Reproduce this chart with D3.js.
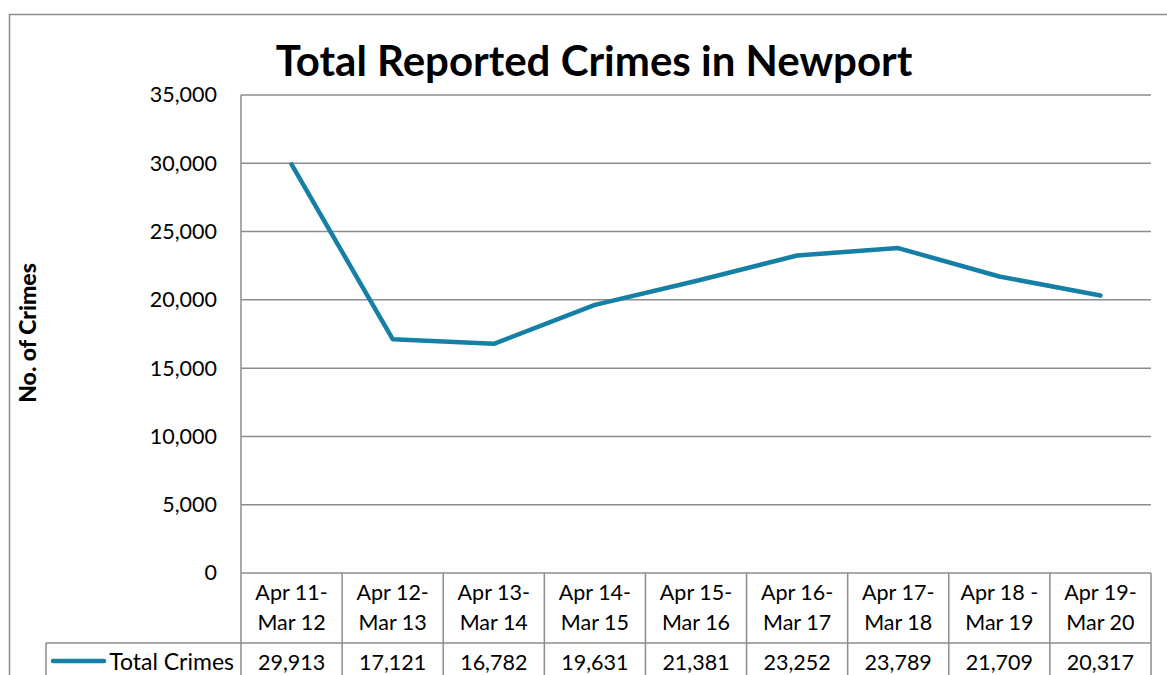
<!DOCTYPE html>
<html>
<head>
<meta charset="utf-8">
<script src="https://cdn.jsdelivr.net/npm/d3@7"></script>
<style>
  html, body { margin: 0; padding: 0; background: #fff; }
  svg { display: block; font-family: Lato, "Open Sans", sans-serif; }
</style>
</head>
<body>
<svg id="chart" width="1167" height="675"></svg>
<script>
// Reporting periods (two-line labels) and yearly totals
const periodStart = ["Apr 11-", "Apr 12-", "Apr 13-", "Apr 14-", "Apr 15-", "Apr 16-", "Apr 17-", "Apr 18 -", "Apr 19-"];
const periodEnd   = ["Mar 12", "Mar 13", "Mar 14", "Mar 15", "Mar 16", "Mar 17", "Mar 18", "Mar 19", "Mar 20"];
const totalCrimes = [29913, 17121, 16782, 19631, 21381, 23252, 23789, 21709, 20317];
const yTicks = [0, 5000, 10000, 15000, 20000, 25000, 30000, 35000];
const seriesName = "Total Crimes";
const chartTitle = "Total Reported Crimes in Newport";
const yTitle = "No. of Crimes";

const svg = d3.select("#chart");
const W = 1167, H = 675;
const plotLeft = 241, plotRight = 1151, plotTop = 95, plotBottom = 573;
const headerBottom = 643;
const legendLeft = 46;
const gridColor = "#8c8c8c";
const lineColor = "#157fa6";

const categories = periodStart.map((d, i) => i);
const x = d3.scaleBand().domain(categories).range([plotLeft, plotRight]);
const y = d3.scaleLinear().domain([0, 35000]).range([plotBottom, plotTop]);
const fmt = d3.format(",");

// outer chart frame
svg.append("rect")
  .attr("x", 9.5).attr("y", 14.5)
  .attr("width", 1200).attr("height", 700)
  .attr("fill", "none").attr("stroke", gridColor).attr("stroke-width", 1.5);

// title
svg.append("text")
  .attr("x", 594).attr("y", 76)
  .attr("text-anchor", "middle")
  .attr("font-weight", "bold").attr("font-size", 42)
  .attr("fill", "#000")
  .text(chartTitle);

// y axis title
svg.append("text")
  .attr("transform", "translate(36,333) rotate(-90)")
  .attr("text-anchor", "middle")
  .attr("font-weight", "900").attr("font-size", 23)
  .attr("fill", "#000")
  .text(yTitle);

// y tick labels
const yAxis = d3.axisLeft(y).tickValues(yTicks).tickFormat(fmt).tickSize(0).tickPadding(24);
const gy = svg.append("g").attr("transform", `translate(${plotLeft},0)`).call(yAxis);
gy.select(".domain").remove();
gy.selectAll("text").attr("font-size", 21.5).attr("fill", "#000")
  .attr("font-family", "Lato, 'Open Sans', sans-serif");

// horizontal gridlines
svg.append("g").selectAll("line")
  .data(yTicks)
  .join("line")
  .attr("x1", plotLeft).attr("x2", plotRight)
  .attr("y1", d => y(d)).attr("y2", d => y(d))
  .attr("stroke", gridColor).attr("stroke-width", 1.5);

// left axis line, extending down through the data table
svg.append("line")
  .attr("x1", plotLeft).attr("x2", plotLeft)
  .attr("y1", plotTop).attr("y2", H)
  .attr("stroke", gridColor).attr("stroke-width", 1.5);

// data table: cell dividers
const bounds = categories.map(i => x(i) + x.bandwidth());
svg.append("g").selectAll("line")
  .data(bounds)
  .join("line")
  .attr("x1", d => d).attr("x2", d => d)
  .attr("y1", plotBottom).attr("y2", H)
  .attr("stroke", gridColor).attr("stroke-width", 1.5);

svg.append("line")
  .attr("x1", legendLeft).attr("x2", plotRight)
  .attr("y1", headerBottom).attr("y2", headerBottom)
  .attr("stroke", gridColor).attr("stroke-width", 1.5);
svg.append("line")
  .attr("x1", legendLeft).attr("x2", legendLeft)
  .attr("y1", headerBottom).attr("y2", H)
  .attr("stroke", gridColor).attr("stroke-width", 1.5);

// category labels
const cat = svg.append("g").selectAll("g")
  .data(categories)
  .join("g")
  .attr("transform", i => `translate(${x(i) + x.bandwidth() / 2},0)`);
cat.append("text")
  .attr("y", 600).attr("text-anchor", "middle")
  .attr("font-size", 21.5).attr("fill", "#000")
  .text(i => periodStart[i]);
cat.append("text")
  .attr("y", 630).attr("text-anchor", "middle")
  .attr("font-size", 21.5).attr("fill", "#000")
  .text(i => periodEnd[i]);

// value row
svg.append("g").selectAll("text")
  .data(totalCrimes)
  .join("text")
  .attr("x", (d, i) => x(i) + x.bandwidth() / 2)
  .attr("y", 670)
  .attr("text-anchor", "middle")
  .attr("font-size", 21.5).attr("fill", "#000")
  .text(d => fmt(d));

// legend key in the table
svg.append("line")
  .attr("x1", 53).attr("x2", 104)
  .attr("y1", 661).attr("y2", 661)
  .attr("stroke", lineColor).attr("stroke-width", 4.5)
  .attr("stroke-linecap", "round");
svg.append("text")
  .attr("x", 234).attr("y", 670)
  .attr("text-anchor", "end")
  .attr("font-size", 23).attr("fill", "#000")
  .text(seriesName);

// series line
const line = d3.line()
  .x((d, i) => x(i) + x.bandwidth() / 2)
  .y(d => y(d));
svg.append("path")
  .datum(totalCrimes)
  .attr("d", line)
  .attr("fill", "none")
  .attr("stroke", lineColor)
  .attr("stroke-width", 4.5)
  .attr("stroke-linejoin", "round")
  .attr("stroke-linecap", "round");
</script>
</body>
</html>
